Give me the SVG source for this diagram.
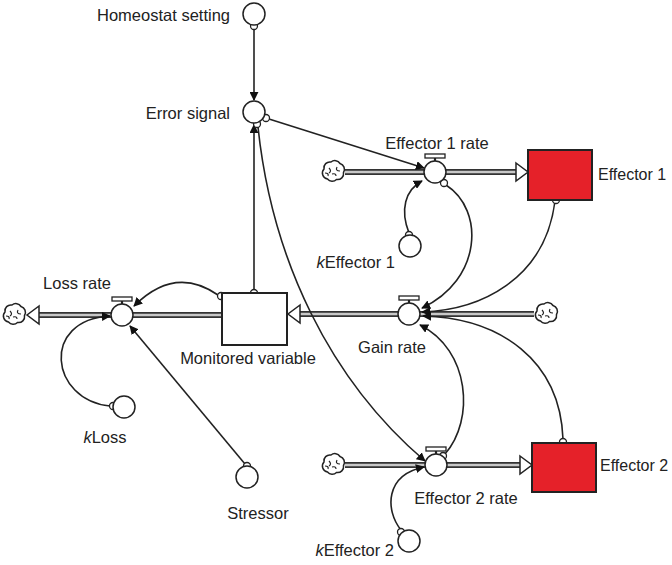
<svg xmlns="http://www.w3.org/2000/svg" width="672" height="565" viewBox="0 0 672 565">
<style>
text{font-family:"Liberation Sans",Arial,sans-serif;font-size:16.5px;fill:#222}
text.eff{font-size:16px}
.aux{fill:#fff;stroke:#222;stroke-width:1.5}
.org{fill:#fff;stroke:#222;stroke-width:1.3}
.con{fill:none;stroke:#222;stroke-width:1.6}
.pipeo{stroke:#333;stroke-width:6;fill:none}
.pipei{stroke:#c8c8c8;stroke-width:2.4;fill:none}
.farrow{fill:#fff;stroke:#222;stroke-width:1.5}
.stock{stroke:#222;stroke-width:2}
.cloud{fill:#fff;stroke:#222;stroke-width:1.5}
</style>
<defs>
<marker id="ah" viewBox="0 0 10 10" refX="9" refY="5" markerWidth="9" markerHeight="9" markerUnits="userSpaceOnUse" orient="auto">
<path d="M0,0 L10,5 L0,10 z" fill="#111"/>
</marker>
<g id="cloudSym">
<path class="cloud" d="M-9,-3 a6,6 0 0 1 7,-7 a6,6 0 0 1 9,1.5 a6,6 0 0 1 3.5,9 a6,6 0 0 1 -7,7 a6,6 0 0 1 -9,-0.5 a6,6 0 0 1 -3.5,-10 z"/>
<path d="M-4,-4 q3,3 0,5 M4,-5 q-2,4 3,4 M3,4 q0,-3 -4,-2 M-5,4 q1,-3 -3,-3" fill="none" stroke="#222" stroke-width="1.2"/>
</g>
<g id="valveHandle">
<rect x="-10" y="-18" width="20" height="4" fill="#fff" stroke="#222" stroke-width="1.3"/>
<line x1="0" y1="-14" x2="0" y2="-10.5" stroke="#222" stroke-width="2.2"/>
</g>
</defs>
<rect width="672" height="565" fill="#fff"/>

<g id="connectors">
<g id="flow-e1">
<line class="pipeo" x1="345" y1="172" x2="518" y2="172"/>
<line class="pipei" x1="345" y1="172" x2="518" y2="172"/>
<path class="farrow" d="M516,163 L528,172 L516,181 z"/>
</g>
<g id="flow-e2">
<line class="pipeo" x1="345" y1="465" x2="522" y2="465"/>
<line class="pipei" x1="345" y1="465" x2="522" y2="465"/>
<path class="farrow" d="M520,456 L532,465 L520,474 z"/>
</g>
<g id="flow-gain">
<line class="pipeo" x1="534" y1="314" x2="298" y2="314"/>
<line class="pipei" x1="534" y1="314" x2="298" y2="314"/>
<path class="farrow" d="M300,305 L288,314 L300,323 z"/>
</g>
<g id="flow-loss">
<line class="pipeo" x1="222" y1="315" x2="37" y2="315"/>
<line class="pipei" x1="222" y1="315" x2="37" y2="315"/>
<path class="farrow" d="M39,306 L27,315 L39,324 z"/>
</g>
<line class="con" x1="254" y1="29" x2="254" y2="100" marker-end="url(#ah)"/>
<line class="con" x1="269" y1="119" x2="424" y2="168" marker-end="url(#ah)"/>
<path class="con" d="M258,127 C272,260 330,380 425,461" marker-end="url(#ah)"/>
<line class="con" x1="254" y1="290" x2="254" y2="125" marker-end="url(#ah)"/>
<path class="con" d="M218,295 Q175,265 134,306" marker-end="url(#ah)"/>
<path class="con" d="M110,406 C50,400 40,320 110,316" marker-end="url(#ah)"/>
<line class="con" x1="245" y1="464" x2="130" y2="326" marker-end="url(#ah)"/>
<path class="con" d="M446,185 C485,210 482,280 422,308" marker-end="url(#ah)"/>
<path class="con" d="M555,201 C545,280 480,310 422,312" marker-end="url(#ah)"/>
<path class="con" d="M563,439 C560,360 500,318 423,316" marker-end="url(#ah)"/>
<path class="con" d="M445,454 C475,420 470,350 420,325" marker-end="url(#ah)"/>
<path class="con" d="M409,233 C400,210 405,190 422,181" marker-end="url(#ah)"/>
<path class="con" d="M401,530 C385,510 385,475 424,467" marker-end="url(#ah)"/>
<circle class="org" cx="254" cy="26" r="3.5"/>
<circle class="org" cx="266" cy="118" r="3.5"/>
<circle class="org" cx="257" cy="124" r="3.5"/>
<circle class="org" cx="254" cy="293" r="3.5"/>
<circle class="org" cx="221" cy="296" r="3.5"/>
<circle class="org" cx="113" cy="406" r="3.5"/>
<circle class="org" cx="247" cy="466" r="3.5"/>
<circle class="org" cx="444" cy="183" r="3.5"/>
<circle class="org" cx="556" cy="200" r="3.5"/>
<circle class="org" cx="563" cy="442" r="3.5"/>
<circle class="org" cx="443" cy="456" r="3.5"/>
<circle class="org" cx="409" cy="235" r="3.5"/>
<circle class="org" cx="401" cy="532" r="3.5"/>
</g>

<g id="homeostat-setting">
<circle class="aux" cx="254" cy="14" r="11"/>
<text x="230" y="21" text-anchor="end">Homeostat setting</text>
</g>
<g id="error-signal">
<circle class="aux" cx="254" cy="112" r="11"/>
<text x="230" y="119" text-anchor="end">Error signal</text>
</g>
<g id="effector1-rate">
<use href="#valveHandle" x="435" y="172"/>
<circle class="aux" cx="435" cy="172" r="11"/>
<text x="437" y="149" text-anchor="middle">Effector 1 rate</text>
</g>
<g id="cloud-e1"><use href="#cloudSym" x="333" y="172"/></g>
<g id="effector1">
<rect class="stock" x="528" y="150" width="64" height="50" fill="#e52129"/>
<text class="eff" x="598" y="180">Effector 1</text>
</g>
<g id="keffector1">
<circle class="aux" cx="410" cy="246" r="11"/>
<text x="395" y="268" text-anchor="end"><tspan font-style="italic">k</tspan>Effector 1</text>
</g>
<g id="gain-rate">
<use href="#valveHandle" x="409" y="314"/>
<circle class="aux" cx="409" cy="314" r="11"/>
<text x="392" y="353" text-anchor="middle">Gain rate</text>
</g>
<g id="cloud-gain"><use href="#cloudSym" x="546" y="314"/></g>
<g id="monitored-variable">
<rect class="stock" x="222" y="293" width="65" height="52" fill="#fff"/>
<text x="248" y="364" text-anchor="middle">Monitored variable</text>
</g>
<g id="loss-rate">
<use href="#valveHandle" x="122" y="315"/>
<circle class="aux" cx="122" cy="315" r="11"/>
<text x="77" y="289" text-anchor="middle">Loss rate</text>
</g>
<g id="cloud-loss"><use href="#cloudSym" x="14" y="315"/></g>
<g id="kloss">
<circle class="aux" cx="124" cy="407" r="11"/>
<text x="105" y="443" text-anchor="middle"><tspan font-style="italic">k</tspan>Loss</text>
</g>
<g id="stressor">
<circle class="aux" cx="247" cy="477" r="11"/>
<text x="258" y="519" text-anchor="middle">Stressor</text>
</g>
<g id="effector2-rate">
<use href="#valveHandle" x="436" y="465"/>
<circle class="aux" cx="436" cy="465" r="11"/>
<text x="466" y="504" text-anchor="middle">Effector 2 rate</text>
</g>
<g id="cloud-e2"><use href="#cloudSym" x="333" y="465"/></g>
<g id="effector2">
<rect class="stock" x="532" y="443" width="64" height="49" fill="#e52129"/>
<text class="eff" x="600" y="471">Effector 2</text>
</g>
<g id="keffector2">
<circle class="aux" cx="409" cy="541" r="11"/>
<text x="394" y="556" text-anchor="end"><tspan font-style="italic">k</tspan>Effector 2</text>
</g>
</svg>
